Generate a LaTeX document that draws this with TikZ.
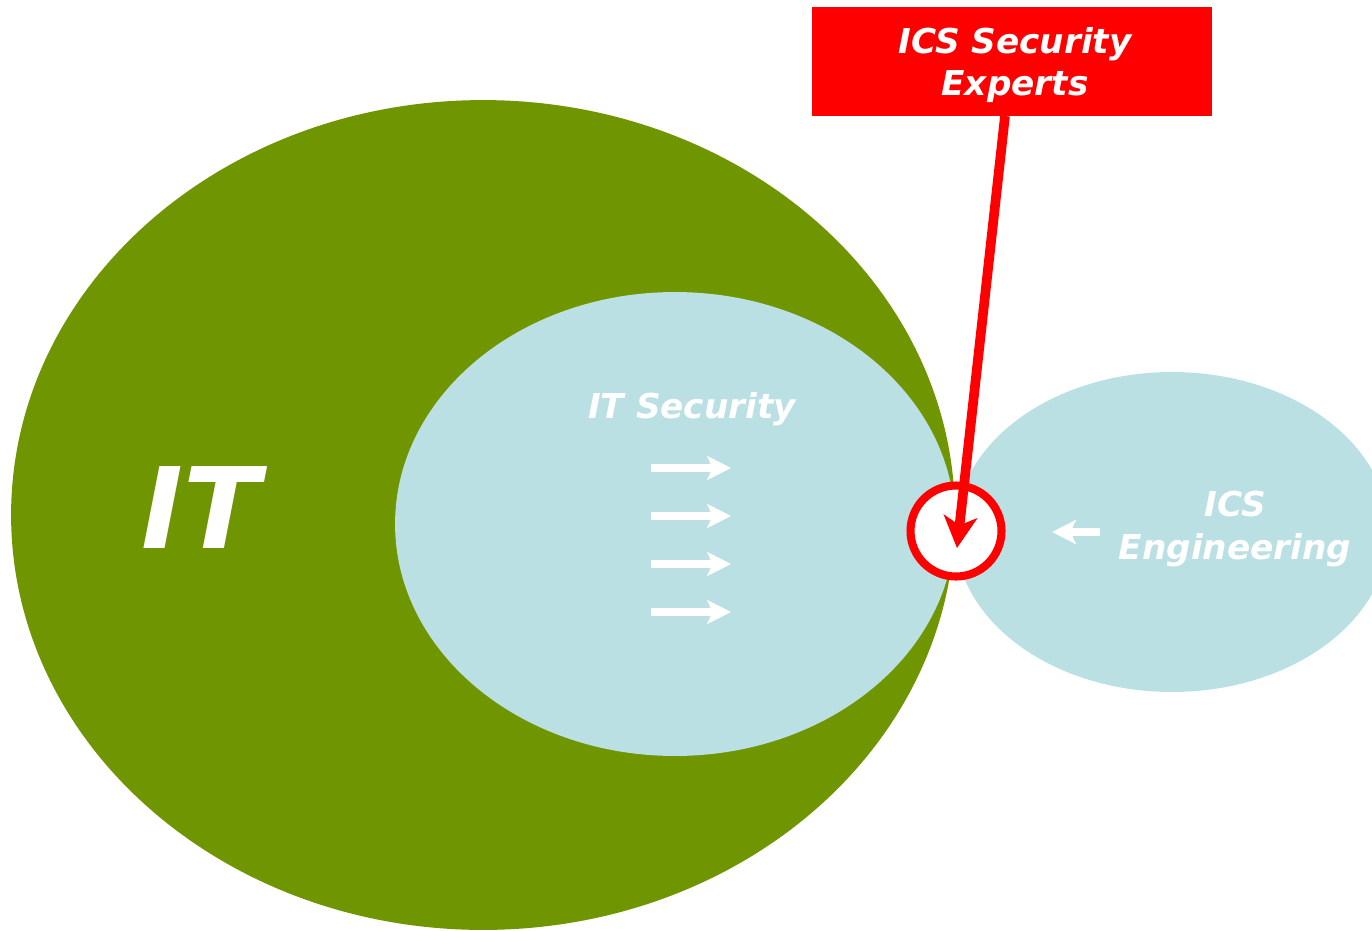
\documentclass[tikz,border=0pt]{standalone}
\usepackage{fontspec}
\setmainfont{DejaVu Sans}
\usetikzlibrary{shapes.geometric,arrows.meta}
\definecolor{itgreen}{RGB}{111,149,0}
\definecolor{secblue}{RGB}{186,224,227}
\definecolor{alarmred}{RGB}{255,0,0}
\begin{document}
\begin{tikzpicture}[x=0.02cm,y=-0.02cm,
  lbl/.style={text=white,font=\bfseries\itshape\fontsize{19.5}{24.4}\selectfont,inner sep=0pt},
  blob/.style={ellipse,inner sep=0pt,draw=none},
  warrow/.style={white,line width=4.4pt,-{Stealth[length=13.5pt,width=13.5pt,inset=3pt]}},
  redarrow/.style={alarmred,line width=5.5pt,-{Stealth[length=18pt,width=19pt,inset=5pt]}}
]
\useasboundingbox (0,0) rectangle (1372,930);
\clip (0,0) rectangle (1372,930);
\node[blob,fill=itgreen,minimum width=18.88cm,minimum height=16.6cm] (it) at (483,515) {};
\node[blob,fill=secblue,minimum width=11.2cm,minimum height=9.28cm] (itsec) at (675,524) {};
\node[blob,fill=secblue,minimum width=8.68cm,minimum height=6.4cm] (icseng) at (1172,532) {};
\node[circle,draw=alarmred,fill=white,line width=4.6pt,minimum size=1.82cm,inner sep=0pt] (spot) at (956,531) {};

\node[lbl,font=\bfseries\itshape\fontsize{64}{64}\selectfont,anchor=base] (itlabel) at (201,548) {IT};
\node[lbl,anchor=base] (seclabel) at (692,418) {IT Security};
\node[lbl,align=center] (englabel) at (1235,529) {ICS\\Engineering};

\foreach \yy in {468,516,564,612} {
  \coordinate (s\yy) at (651,\yy);
  \coordinate (e\yy) at (731,\yy);
  \draw[warrow] (s\yy) -- (e\yy);
}
\coordinate (ls) at (1100,532);
\coordinate (le) at (1052,532);
\draw[warrow] (ls) -- (le);

\node[fill=alarmred,minimum width=8cm,minimum height=2.18cm,inner sep=0pt] (experts) at (1012,61.5) {};
\node[lbl,align=center] (expertslabel) at (1015,65) {ICS Security\\Experts};
\coordinate (start) at (1005,116);
\coordinate (tip) at (957,548);
\draw[redarrow] (start) -- (tip);
\end{tikzpicture}
\end{document}
